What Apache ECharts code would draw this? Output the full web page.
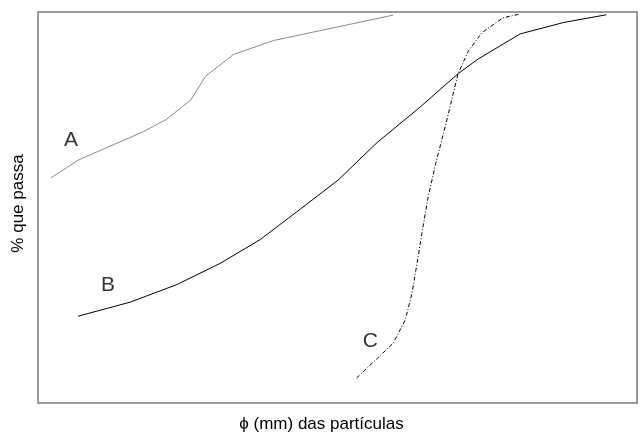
<!DOCTYPE html>
<html>
<head>
<meta charset="utf-8">
<script src="https://cdn.jsdelivr.net/npm/echarts@6/dist/echarts.min.js"></script>
<style>
html,body{margin:0;padding:0;background:#fff;}
#chart{width:644px;height:438px;}
</style>
</head>
<body>
<div id="chart"></div>
<script>
// Curve A (x: relative particle size scale, y: % passing)
const curveA = [[2.2,57.6],[6.7,62.1],[9.8,64.2],[17.6,69.4],[21.4,72.5],[25.5,77.5],[28.0,83.6],[32.6,89.1],[39.3,92.7],[59.3,99.2]];
// Curve B
const curveB = [[6.7,22.2],[15.4,25.8],[23.2,30.3],[30.4,35.7],[37.1,41.8],[43.2,48.9],[50.1,57.0],[56.6,66.6],[63.8,75.7],[70.2,84.3],[73.5,88.0],[80.5,94.4],[87.7,97.3],[94.9,99.3]];
// Curve C
const curveC = [[53.2,6.4],[59.3,15.3],[61.3,21.2],[62.4,27.8],[63.3,35.9],[64.1,43.5],[65.1,52.4],[66.4,61.3],[68.1,71.4],[70.1,84.1],[71.8,89.9],[74.1,94.7],[77.6,98.5],[80.5,99.5]];
// Curve labels
const curveLabels = ['A','B','C'];
const labelPoints = [[5.5,67.3],[11.7,30.1],[55.5,15.9]];
const xTitle = 'ϕ (mm) das partículas';
const yTitle = '% que passa';

const chart = echarts.init(document.getElementById('chart'), null, {renderer:'canvas'});
const font = '"Liberation Sans", Arial, sans-serif';
chart.setOption({
  animation:false,
  backgroundColor:'#fff',
  grid:{left:38,right:7,top:12,bottom:31,show:true,borderColor:'#7a7a7a',borderWidth:1.5,backgroundColor:'transparent'},
  xAxis:{type:'value',min:0,max:100,splitLine:{show:false},axisLine:{show:false},axisTick:{show:false},axisLabel:{show:false},
    name:xTitle,nameLocation:'middle',nameGap:13,nameTextStyle:{fontFamily:font,fontSize:17,color:'#000',verticalAlign:'top',padding:[0,32,0,0]}},
  yAxis:{type:'value',min:0,max:100,splitLine:{show:false},axisLine:{show:false},axisTick:{show:false},axisLabel:{show:false},
    name:yTitle,nameLocation:'middle',nameGap:11,nameTextStyle:{fontFamily:font,fontSize:17,color:'#000',padding:[0,0,0,8]}},
  series:[
    {type:'line',data:curveA,symbol:'none',lineStyle:{color:'#8a8a8a',width:1}},
    {type:'line',data:curveB,symbol:'none',lineStyle:{color:'#000',width:1}},
    {type:'line',data:curveC,symbol:'none',lineStyle:{color:'#000',width:1,type:[4,2,1,2]}},
    {type:'scatter',symbolSize:0,silent:true,
     data:labelPoints.map((p,i)=>({value:p,label:{show:true,formatter:curveLabels[i]}})),
     label:{position:'inside',fontFamily:font,fontSize:21,color:'#000'}}
  ]
});
</script>
</body>
</html>
